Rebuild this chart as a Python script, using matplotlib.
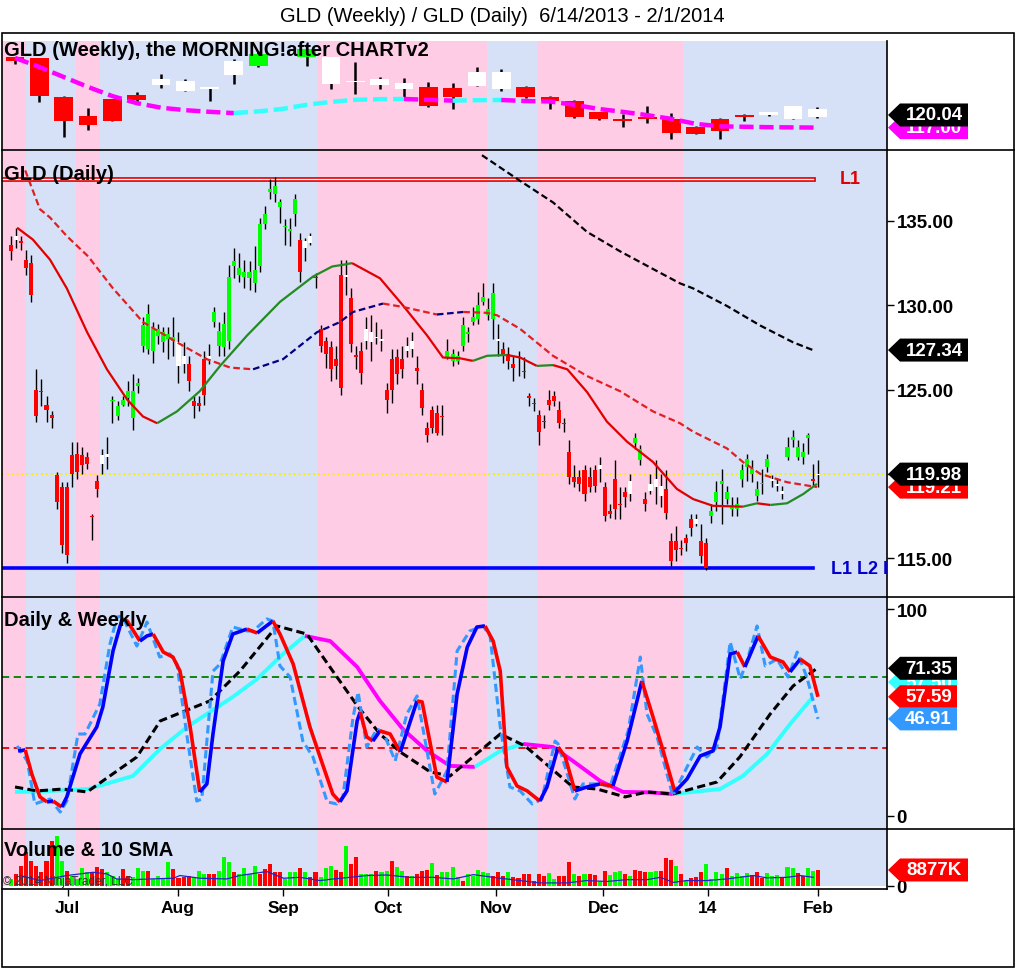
import numpy as np
import matplotlib
matplotlib.use('Agg')
import matplotlib.pyplot as plt
from matplotlib.patches import Polygon, Rectangle
from matplotlib.lines import Line2D
from matplotlib.transforms import IdentityTransform
from matplotlib.ticker import FormatStrFormatter

# ---------------- data ----------------
# daily GLD bars, 6/14/2013 .. 1/31/2014 (one entry per trading day)
D_OPEN = [133.6, 133.9, 133.8, 132.7, 132.5, 125.0, 124.9, 124.1, 123.5, 119.9,
          119.2, 119.2, 121.1, 121.2, 121.1, 121.0, 117.5, 119.6, 120.6, 121.0,
          124.3, 123.4, 124.1, 124.5, 123.3, 125.2, 127.6, 127.4, 127.3, 128.2,
          127.8, 128.0, 127.9, 126.4, 126.5, 126.5, 124.3, 124.2, 126.8, 126.8,
          129.0, 127.6, 127.5, 127.9, 132.3, 131.8, 131.7, 131.6, 131.3, 132.3,
          134.8, 136.7, 136.6, 135.8, 134.7, 134.4, 135.4, 133.9, 133.4, 133.7,
          131.7, 128.6, 127.9, 127.5, 126.8, 131.8, 131.7, 130.4, 127.0, 127.3,
          127.9, 127.8, 128.1, 127.9, 125.0, 126.8, 126.9, 126.8, 127.3, 127.4,
          126.3, 125.0, 122.7, 123.8, 123.6, 123.4, 126.9, 126.7, 126.7, 127.6,
          128.3, 129.0, 129.2, 130.2, 129.4, 129.2, 127.9, 127.4, 127.1, 126.5,
          126.9, 126.1, 124.6, 124.2, 123.5, 123.1, 124.4, 124.6, 123.8, 123.0,
          121.3, 119.8, 119.8, 120.2, 119.8, 120.2, 120.3, 119.2, 117.8, 119.7,
          118.2, 118.9, 118.8, 121.8, 120.8, 118.5, 119.0, 119.2, 118.7, 119.1,
          116.0, 116.0, 115.6, 116.2, 117.3, 117.0, 116.0, 115.9, 117.5, 118.3,
          119.4, 118.5, 117.9, 117.9, 119.7, 120.4, 120.0, 118.7, 119.4, 120.4,
          119.6, 119.3, 118.8, 121.0, 122.0, 121.0, 121.0, 122.1, 119.7, 119.9]
D_HIGH = [134.1, 134.6, 134.1, 133.3, 133.0, 126.2, 125.6, 124.6, 123.7, 120.1,
          119.5, 119.5, 121.9, 121.9, 121.6, 121.3, 117.6, 119.9, 121.5, 122.2,
          124.6, 124.3, 124.6, 125.5, 125.9, 125.7, 129.3, 130.1, 129.0, 128.9,
          128.7, 128.7, 129.3, 128.4, 127.8, 127.0, 124.6, 124.6, 127.3, 127.7,
          129.9, 129.0, 129.6, 132.4, 133.4, 133.1, 132.7, 132.6, 133.5, 135.2,
          135.9, 137.5, 137.6, 136.3, 135.1, 135.2, 136.6, 134.3, 134.0, 134.3,
          131.9, 128.8, 128.1, 127.9, 127.6, 132.7, 132.7, 131.0, 127.6, 127.8,
          129.3, 129.4, 129.0, 128.6, 125.4, 127.4, 127.4, 127.6, 128.1, 128.4,
          127.0, 125.4, 123.1, 124.0, 124.1, 124.1, 128.0, 127.4, 127.3, 129.3,
          128.7, 129.9, 130.8, 131.3, 130.4, 131.3, 128.9, 127.8, 127.5, 127.0,
          127.3, 126.9, 124.8, 124.5, 123.8, 123.5, 125.0, 124.9, 124.3, 123.3,
          122.0, 120.5, 120.2, 120.5, 120.4, 120.5, 121.0, 119.5, 118.2, 120.8,
          119.2, 119.2, 120.0, 122.4, 121.7, 118.9, 120.0, 120.8, 120.0, 120.2,
          116.5, 116.9, 116.1, 116.4, 117.6, 117.6, 117.0, 116.2, 118.2, 119.6,
          120.3, 119.3, 118.6, 118.6, 120.6, 121.2, 120.8, 119.6, 120.3, 121.2,
          119.9, 119.7, 119.3, 122.2, 122.6, 122.0, 121.8, 122.4, 120.6, 120.8]
D_LOW = [132.7, 133.4, 133.3, 131.8, 130.2, 123.1, 124.0, 123.1, 122.7, 117.9,
         115.3, 114.7, 119.2, 119.7, 120.0, 120.3, 116.1, 118.6, 120.0, 120.3,
         123.0, 123.2, 124.0, 124.0, 122.6, 124.8, 127.2, 127.1, 126.6, 127.7,
         127.2, 126.8, 127.0, 125.4, 126.0, 124.9, 123.3, 123.7, 124.1, 126.5,
         128.7, 127.0, 127.0, 127.4, 131.6, 131.4, 131.0, 130.9, 130.8, 132.0,
         134.5, 136.3, 136.1, 134.9, 133.6, 133.5, 134.7, 131.4, 132.6, 133.6,
         131.0, 127.2, 126.3, 125.5, 125.6, 124.7, 130.6, 127.2, 126.2, 125.3,
         127.4, 126.7, 127.7, 127.3, 123.6, 124.2, 125.3, 125.7, 126.9, 126.9,
         125.3, 123.5, 121.9, 122.4, 122.3, 122.3, 126.8, 126.4, 126.5, 127.3,
         127.8, 128.8, 128.9, 130.0, 129.1, 128.0, 127.0, 126.6, 126.2, 125.5,
         125.8, 125.7, 124.0, 123.7, 121.7, 122.7, 123.8, 124.0, 122.7, 122.5,
         119.4, 119.2, 119.0, 118.4, 118.9, 118.9, 119.5, 117.2, 117.4, 117.3,
         117.3, 118.0, 118.4, 121.5, 120.5, 117.8, 118.8, 118.2, 118.0, 117.3,
         114.5, 114.8, 115.2, 115.4, 116.3, 116.9, 114.7, 114.3, 117.1, 117.8,
         117.0, 118.2, 117.5, 117.5, 119.2, 119.6, 119.5, 118.4, 118.8, 120.1,
         119.2, 119.0, 118.5, 120.8, 121.6, 120.8, 120.6, 121.2, 119.3, 119.2]
D_CLOSE = [133.2, 134.1, 133.7, 132.2, 130.6, 123.4, 124.85, 123.8, 123.3, 118.3,
           115.8, 115.2, 120.0, 120.1, 120.5, 120.6, 117.45, 119.1, 121.1, 121.2,
           124.35, 124.0, 124.4, 124.9, 124.9, 125.4, 128.8, 129.5, 128.6, 128.6,
           128.4, 128.3, 128.1, 127.8, 127.0, 125.5, 124.0, 124.0, 124.7, 127.0,
           129.6, 128.5, 128.9, 131.7, 132.6, 132.2, 132.0, 132.0, 132.1, 134.8,
           135.4, 136.9, 137.1, 136.1, 134.65, 134.5, 136.3, 132.0, 133.8, 134.1,
           131.6, 127.6, 127.1, 126.2, 126.4, 125.1, 131.8, 127.7, 126.95, 126.0,
           128.6, 128.4, 128.05, 128.0, 124.4, 125.0, 125.9, 126.2, 127.6, 127.9,
           126.1, 123.9, 122.3, 122.7, 122.4, 123.35, 127.3, 127.1, 127.0, 128.8,
           128.4, 129.3, 130.0, 130.5, 129.8, 130.7, 128.0, 127.0, 126.7, 126.3,
           126.85, 126.05, 124.5, 124.15, 122.5, 123.05, 124.1, 124.3, 123.0, 122.95,
           119.8, 119.5, 119.4, 118.8, 119.2, 119.3, 120.5, 117.5, 117.6, 117.9,
           118.15, 118.6, 119.6, 122.1, 121.5, 118.2, 119.4, 119.7, 119.3, 117.7,
           114.8, 115.5, 115.55, 115.9, 116.8, 117.3, 115.1, 114.4, 117.8, 118.9,
           119.6, 118.9, 118.1, 118.2, 120.2, 120.9, 120.3, 119.1, 119.45, 120.9,
           119.65, 119.35, 119.0, 121.6, 122.2, 121.6, 121.3, 122.3, 119.6, 119.98]
# bar paint state: r = red, g = green, w = white
D_STATE = ("rwrrrrrrrr" "rrrrrrrrww" "gggggggggg" "gggwwrrrrw" "gggggggggg"
           "gggggggrww" "rrrrrrwrrr" "wwwwrrrrww" "rrrrrrgggg" "ggggggwrrr"
           "rrrrrrrrrr" "rrrrrrwrrr" "rrwggrwwwr" "rrrrrwrrgg" "gggggggggg"
           "wwwgggggrw")

# daily moving averages (bar index, price)
MA_FAST_X = [1.2, 4.3, 7.7, 11.0, 15.0, 18.9, 22.9, 26.0, 28.8, 32.7,
             37.2, 41.2, 46.5, 53.0, 59.5, 63.3, 65.4, 67.2, 72.7, 77.2,
             82.0, 85.1, 88.5, 91.0, 93.8, 97.7, 100.3, 103.6, 106.8, 109.6,
             113.5, 117.4, 121.4, 126.5, 131.2, 134.4, 138.3, 144.2, 147.0, 149.6,
             152.9, 156.1, 158.8]
MA_FAST_Y = [134.6, 133.9, 132.7, 131.0, 128.4, 126.2, 124.4, 123.4, 123.0, 123.7,
             124.9, 126.4, 128.2, 130.2, 131.7, 132.3, 132.4, 132.5, 131.6, 130.0,
             128.2, 126.9, 126.85, 126.7, 127.0, 127.05, 126.9, 126.4, 126.45, 126.2,
             124.85, 123.1, 121.9, 120.7, 119.1, 118.5, 118.1, 118.05, 118.25, 118.15,
             118.25, 118.8, 119.4]
MA_MID_X = [2.8, 5.7, 7.7, 11.0, 15.2, 20.1, 26.0, 32.7, 38.6, 43.2,
            47.7, 53.6, 60.3, 64.8, 67.4, 73.3, 77.2, 83.9, 89.1, 93.8,
            95.8, 100.3, 106.8, 113.5, 120.0, 126.5, 131.8, 134.4, 141.1, 144.2,
            147.6, 152.9, 158.8]
MA_MID_Y = [138.0, 135.7, 135.2, 134.1, 132.9, 131.0, 129.0, 127.8, 126.8, 126.3,
            126.2, 126.8, 128.4, 129.0, 129.6, 130.1, 129.9, 129.45, 129.6, 129.55,
            129.4, 128.6, 127.0, 125.8, 124.9, 123.7, 123.0, 122.5, 121.5, 120.7,
            120.0, 119.5, 119.21]
MA_SLOW_X = [92.8, 99.7, 106.8, 113.5, 120.0, 126.5, 131.8, 134.4, 141.1, 147.6, 154.1, 158.0]
MA_SLOW_Y = [138.9, 137.5, 136.1, 134.35, 133.2, 132.15, 131.3, 131.0, 129.95, 128.8, 127.8, 127.34]

L1_LEVEL = 137.5
L2_LEVEL = 114.4
LEVEL_END = 158.0
LAST_PRICE = 119.98

# weekly GLD bars
W_OPEN = [134.0, 133.8, 124.4, 119.8, 123.9, 124.9, 127.3, 125.8, 126.3, 129.7,
          131.8, 138.6, 134.0, 127.5, 128.0, 127.3, 126.3, 126.8, 126.5, 127.0,
          126.3, 126.8, 124.4, 123.4, 120.8, 119.1, 119.6, 119.1, 117.2, 119.1,
          120.0, 120.1, 119.1, 119.6]
W_CLOSE = [133.0, 124.6, 118.6, 117.6, 118.6, 123.7, 128.7, 128.2, 126.8, 133.0,
           134.7, 139.6, 135.9, 134.0, 128.1, 128.7, 127.8, 122.2, 124.4, 130.4,
           130.4, 124.4, 123.4, 119.6, 119.1, 118.6, 119.1, 115.7, 115.5, 116.2,
           119.6, 120.8, 122.2, 121.5]
W_HIGH = [134.0, 133.8, 124.6, 121.7, 123.9, 125.5, 129.9, 128.7, 126.8, 133.5,
          135.5, 140.0, 135.9, 134.0, 132.8, 129.2, 128.9, 128.0, 127.7, 131.6,
          131.2, 127.0, 124.6, 123.6, 120.8, 120.3, 122.2, 120.5, 117.4, 119.3,
          120.3, 120.8, 122.2, 122.0]
W_LOW = [132.3, 123.2, 114.7, 116.4, 118.6, 122.7, 126.5, 125.8, 123.4, 127.5,
         131.6, 138.4, 131.9, 126.3, 125.1, 126.3, 123.9, 122.0, 121.5, 127.0,
         125.8, 124.2, 121.5, 119.3, 118.9, 117.2, 118.1, 114.3, 115.5, 114.3,
         118.6, 119.8, 119.1, 119.3]
W_STATE = "rrrrrr" "wwww" "ggg" "wwww" "rr" "ww" "rrrrrrrrrr" "www"
W_MA = [133.8, 131.6, 129.2, 126.8, 124.6, 122.9, 121.8, 121.2, 120.8, 120.5,
        120.9, 121.5, 122.5, 123.2, 123.7, 123.85, 123.9, 123.7, 123.5, 123.6,
        123.65, 123.4, 123.3, 122.5, 121.5, 120.8, 120.0, 119.1, 117.9, 117.3,
        117.2, 117.1, 117.05, 117.0]
W_LAST = 120.04

# stochastics (bar index, value)
SK_X = [1.4, 2.8, 4.1, 5.7, 7.1, 8.3, 10.0, 11.0, 13.6, 16.9,
        18.1, 20.1, 21.9, 22.9, 25.4, 26.8, 28.0, 30.0, 31.9, 33.3,
        35.3, 37.2, 38.6, 39.8, 41.8, 43.7, 46.5, 48.5, 51.6, 53.0,
        55.6, 58.9, 60.9, 63.4, 64.8, 66.2, 68.2, 68.8, 70.1, 71.3,
        72.7, 74.7, 76.7, 80.0, 81.0, 83.9, 85.9, 87.9, 89.9, 91.8,
        93.4, 95.0, 96.4, 97.7, 99.7, 101.7, 104.2, 105.6, 107.8, 109.2,
        111.1, 113.5, 116.1, 118.6, 121.4, 124.3, 126.5, 128.5, 130.8, 133.2,
        135.8, 138.3, 139.7, 141.7, 143.1, 144.6, 147.2, 149.6, 152.1, 153.5,
        155.5, 157.4, 159.0]
SK_Y = [31.4, 31.9, 20.3, 9.2, 6.8, 7.2, 4.3, 9.2, 30.0, 43.0,
        52.7, 79.7, 95.2, 94.2, 84.5, 87.0, 87.9, 79.2, 76.8, 70.0,
        43.0, 11.6, 15.5, 39.6, 74.9, 87.9, 90.3, 88.4, 94.2, 87.9,
        73.4, 43.0, 28.5, 10.6, 6.8, 12.1, 45.9, 50.2, 38.2, 36.2,
        41.1, 39.6, 30.9, 55.6, 55.1, 18.8, 16.4, 58.9, 81.6, 91.3,
        91.8, 84.5, 70.0, 23.7, 14.5, 12.1, 7.2, 14.0, 33.3, 28.5,
        12.1, 14.0, 15.5, 14.5, 36.2, 65.2, 47.8, 31.4, 11.6, 17.9,
        29.0, 31.4, 43.0, 78.3, 79.2, 72.0, 87.0, 76.8, 74.4, 69.6,
        75.8, 72.5, 57.59]
SF_X = [1.2, 3.2, 4.7, 6.3, 7.7, 9.7, 11.0, 13.2, 14.6, 17.5,
        19.5, 20.9, 21.9, 24.8, 26.8, 29.3, 31.3, 32.7, 34.7, 36.6,
        37.6, 39.8, 41.2, 43.7, 46.5, 47.7, 50.4, 51.6, 53.0, 55.0,
        57.5, 59.5, 62.3, 64.2, 65.4, 67.4, 68.4, 70.1, 72.1, 73.3,
        75.7, 78.0, 80.0, 83.5, 85.9, 87.9, 90.4, 93.0, 94.4, 96.4,
        98.3, 100.3, 102.7, 104.6, 107.2, 107.8, 111.1, 112.7, 116.1, 118.0,
        121.6, 124.0, 125.3, 127.3, 130.4, 132.8, 135.2, 137.1, 139.1, 141.7,
        143.7, 145.0, 147.0, 148.6, 150.9, 153.1, 154.9, 156.8, 159.0]
SF_Y = [33.8, 26.6, 5.8, 7.2, 8.2, 1.9, 7.2, 39.6, 39.6, 54.1,
        83.1, 96.1, 96.6, 82.1, 93.7, 76.8, 78.3, 73.4, 38.2, 7.2,
        8.2, 70.0, 73.4, 91.3, 89.4, 89.4, 95.2, 94.2, 72.5, 67.1,
        36.2, 28.5, 6.8, 5.8, 9.2, 47.8, 59.9, 33.3, 42.0, 40.6,
        26.6, 49.3, 58.0, 10.6, 21.7, 79.7, 89.4, 91.8, 87.0, 43.0,
        14.0, 12.1, 5.8, 8.2, 36.2, 34.8, 8.2, 15.5, 15.5, 14.0,
        41.1, 76.8, 49.3, 38.2, 9.7, 21.7, 33.3, 28.5, 33.3, 84.1,
        66.2, 74.9, 91.8, 72.5, 75.8, 67.1, 79.2, 67.1, 46.91]
WD_X = [0.8, 5.1, 10.2, 15.0, 24.8, 29.4, 39.2, 45.1, 52.4, 58.3,
        63.4, 68.4, 72.7, 76.7, 82.6, 86.5, 96.4, 101.3, 110.7, 115.5,
        121.0, 125.3, 130.4, 139.1, 143.6, 149.6, 154.1, 158.8]
WD_Y = [14.0, 12.1, 13.0, 11.6, 28.5, 45.9, 55.6, 70.0, 91.8, 87.9,
        70.0, 52.7, 39.6, 30.9, 21.3, 19.3, 39.6, 33.8, 14.0, 13.0,
        9.2, 11.6, 10.6, 16.4, 28.5, 49.3, 62.8, 71.35]
WK_X = [0.8, 5.1, 10.2, 15.2, 24.0, 29.4, 34.7, 43.7, 48.5, 53.6,
        57.9, 62.9, 68.2, 72.7, 77.2, 82.0, 86.5, 91.4, 96.4, 100.9,
        106.8, 110.7, 116.1, 120.6, 125.9, 130.4, 139.7, 144.2, 149.0, 153.5,
        158.0]
WK_Y = [11.6, 11.8, 12.4, 13.0, 19.3, 32.4, 43.0, 57.5, 66.2, 78.3,
        87.0, 84.5, 72.0, 55.6, 42.0, 31.4, 24.2, 23.7, 31.4, 34.8,
        33.3, 26.6, 16.9, 11.6, 11.4, 10.6, 13.0, 19.3, 30.0, 44.4,
        57.5]
WK_TAG = 64.7
STOCH_HI, STOCH_LO = 67, 33

# volume in millions of shares
VOLUME = [3.9, 6.7, 11.3, 18.7, 14.1, 11.3, 7.6, 14.1, 25.2, 27.9,
          14.1, 8.5, 5.8, 3.9, 9.8, 7.6, 7.6, 10.3, 9.4, 7.6,
          5.8, 3.9, 9.4, 5.8, 4.8, 9.8, 8.5, 8.5, 3.9, 5.8,
          3.9, 13.1, 9.4, 4.3, 4.8, 5.8, 4.8, 8.5, 6.7, 6.7,
          6.7, 8.5, 15.9, 13.1, 7.6, 6.7, 9.8, 6.7, 11.0, 6.7,
          9.4, 12.2, 7.6, 7.6, 3.9, 8.0, 7.6, 9.8, 8.0, 4.8,
          8.0, 4.8, 9.8, 11.0, 9.1, 7.6, 22.4, 12.2, 15.9, 6.7,
          6.7, 6.7, 8.5, 7.6, 8.5, 14.1, 10.3, 8.5, 5.8, 5.8,
          6.7, 8.5, 9.1, 12.8, 6.1, 8.0, 7.6, 10.3, 4.8, 3.0,
          6.7, 5.8, 9.1, 7.6, 7.2, 5.8, 8.0, 5.8,
          8.0, 4.8, 4.3, 6.7, 6.7, 3.0, 6.7, 5.8, 7.2, 3.9,
          5.8, 5.8, 13.5, 6.7, 5.8, 6.7, 6.7, 6.1, 3.0, 8.5,
          6.1, 8.0, 8.5, 6.7, 5.4, 9.1, 8.5, 8.0, 8.0, 8.5,
          8.5, 15.4, 14.4, 11.3, 6.7, 3.5, 4.3, 4.8, 7.6, 12.2,
          3.9, 7.6, 6.7, 10.0, 5.8, 7.2, 5.8, 7.2, 6.1, 8.0,
          4.3, 7.2, 5.8, 6.1, 4.8, 10.7, 9.8, 7.2, 5.8, 9.8,
          8.5, 8.877]
VOL_STATE = ("grrrrrrrrg" "grggggrrrg" "ggrrgggrgg" "ggrrrrgggr" "rgggrggggr"
             "rrrrgggrgr" "rgggrrgrrg" "ggrggrggrg" "rrrgrggggr" "gggggrrr"
             "grrrrrrrgg" "rrrgrgrrgr" "gggrgrrrgg" "rrrgrgrrrg" "gggrggggrr"
             "rgggrggrrg" "gr")
VSMA_X = [1.8, 5.7, 11.0, 16.2, 18.9, 20.8, 24.1, 27.4, 32.0, 33.3,
          37.2, 42.5, 45.1, 50.4, 53.7, 56.9, 60.9, 63.5, 66.8, 70.1,
          74.0, 78.6, 83.2, 87.2, 91.1, 96.4, 100.3, 104.2, 109.5, 113.4,
          117.4, 121.3, 125.3, 127.9, 130.5, 133.1, 137.1, 141.0, 146.3, 148.9,
          152.9, 155.5, 158.1]
VSMA_Y = [5.8, 3.0, 5.8, 7.6, 6.7, 3.9, 3.5, 3.9, 4.3, 5.8,
          4.3, 3.9, 5.8, 8.0, 4.3, 4.8, 3.0, 3.9, 4.8, 5.8,
          6.1, 4.8, 4.8, 3.9, 6.3, 4.3, 3.0, 1.7, 1.7, 3.0,
          2.5, 3.5, 3.5, 4.8, 2.0, 3.0, 3.0, 3.9, 5.8, 4.5,
          4.8, 5.8, 4.8]

# shaded trend regions (bar index ranges painted pink)
PINK_SPANS = [(-2.0, 2.96), (12.8, 17.5), (60.5, 93.8), (103.6, 132.4)]

MONTH_POS = [11.2, 32.9, 53.6, 74.3, 95.6, 116.7, 137.3, 159.0]
MONTH_LABELS = ['Jul', 'Aug', 'Sep', 'Oct', 'Nov', 'Dec', '14', 'Feb']


def main():
    W, H = 1016, 970
    plt.rcParams['font.family'] = ['Liberation Sans', 'DejaVu Sans']
    fig = plt.figure(figsize=(W / 100, H / 100), dpi=100)
    fig.patch.set_facecolor('white')

    x_left, x_right = -1.77, 172.6
    pink = '#FFCCE6'
    blue = '#D6E0F6'
    paint = {'r': '#FF0000', 'g': '#00FF00', 'w': '#FFFFFF'}

    def panel(y0, y1, ylim, band_bottom=0.0):
        ax = fig.add_axes([2 / W, 1 - y1 / H, 885 / W, (y1 - y0) / H])
        ax.set_xlim(x_left, x_right)
        ax.set_ylim(*ylim)
        ax.set_facecolor('white')
        ax.axvspan(x_left, x_right, ymin=band_bottom, color=blue, lw=0, zorder=0)
        for a, b in PINK_SPANS:
            ax.axvspan(a, b, ymin=band_bottom, color=pink, lw=0, zorder=0.1)
        for s in ['left', 'top', 'bottom']:
            ax.spines[s].set_visible(False)
        ax.spines['right'].set_linewidth(1.2)
        ax.set_xticks([])
        ax.yaxis.tick_right()
        ax.tick_params(axis='y', length=5, width=1, pad=2, labelsize=13.5)
        return ax

    def bold_ticks(ax):
        plt.setp(ax.get_yticklabels(), fontweight='bold')
        plt.setp(ax.get_xticklabels(), fontweight='bold')

    def trend_plot(ax, xs, ys, up, down, zorder, **kw):
        xs = np.asarray(xs, float)
        ys = np.asarray(ys, float)
        rising = np.diff(ys) > 0
        start = 0
        for k in range(1, len(rising) + 1):
            if k == len(rising) or rising[k] != rising[start]:
                ax.plot(xs[start:k + 1], ys[start:k + 1],
                        color=up if rising[start] else down,
                        zorder=zorder, solid_capstyle='butt', **kw)
                start = k

    def candles(ax, xs, o, h, l, c, state, width, wick_lw, min_body):
        o, h, l, c = map(np.asarray, (o, h, l, c))
        cols = [paint[s] for s in state]
        ax.vlines(xs, l, h, color='black', lw=wick_lw, zorder=3)
        ax.bar(xs, np.maximum(np.abs(c - o), min_body), bottom=np.minimum(o, c),
               width=width, color=cols, lw=0, zorder=4)

    tag_z = [10]

    def tag(ax, val, text, fc, width):
        yd = ax.transData.transform((0, val))[1]
        x0, x1, x2, hh = 888, 900, 888 + width, 11.5
        poly = Polygon([(x0, yd), (x1, yd + hh), (x2, yd + hh), (x2, yd - hh), (x1, yd - hh)],
                       closed=True, transform=IdentityTransform(), facecolor=fc,
                       edgecolor='none', zorder=tag_z[0])
        fig.add_artist(poly)
        fig.text((x1 + x2) / 2 / W, yd / H, text, ha='center', va='center', color='white',
                 fontsize=13.5, fontweight='bold', zorder=tag_z[0] + 0.5)
        tag_z[0] += 1

    # ---------------- weekly panel ----------------
    ax_w = panel(42, 151, (111.6, 137.87))
    ax_w.set_yticks([])
    wx = 0.8 + 4.79 * np.arange(len(W_OPEN))
    candles(ax_w, wx, W_OPEN, W_HIGH, W_LOW, W_CLOSE, W_STATE, 3.7, 1.8, 0.25)
    trend_plot(ax_w, wx, W_MA, '#33FFFF', '#FF00FF', 5, lw=3.2, dashes=(3.2, 1.3))

    # ---------------- daily panel ----------------
    ax_d = panel(151, 598, (112.69, 139.21))
    n = len(D_OPEN)
    dx = np.arange(n)
    ax_d.axhline(LAST_PRICE, color='#FFEE00', lw=1.4, ls=(0, (1, 1.5)), zorder=1)
    ax_d.plot([x_left, LEVEL_END], [L1_LEVEL, L1_LEVEL], color='#E00000', lw=3.4, zorder=2)
    ax_d.plot([x_left, LEVEL_END], [L1_LEVEL, L1_LEVEL], color='white', lw=1.0, zorder=2.1)
    ax_d.plot([x_left, LEVEL_END], [L2_LEVEL, L2_LEVEL], color='#0000FF', lw=2.6, zorder=2)
    candles(ax_d, dx, D_OPEN, D_HIGH, D_LOW, D_CLOSE, D_STATE, 0.8, 1.0, 0.07)
    trend_plot(ax_d, MA_FAST_X, MA_FAST_Y, '#228B22', '#E00000', 5, lw=1.6)
    trend_plot(ax_d, MA_MID_X, MA_MID_Y, '#000080', '#E02020', 5, lw=1.6, dashes=(3, 1.6))
    ax_d.plot(MA_SLOW_X, MA_SLOW_Y, color='black', lw=1.6, dashes=(3, 1.6), zorder=5)
    ax_d.text(163.3, L1_LEVEL, 'L1', color='#E00000', fontsize=13, fontweight='bold',
              va='center', zorder=6)
    ax_d.text(161.6, L2_LEVEL, 'L1 L2 L', color='#0000CC', fontsize=13, fontweight='bold',
              va='center', zorder=6, clip_on=True)
    ax_d.set_yticks([115, 120, 125, 130, 135])
    ax_d.yaxis.set_major_formatter(FormatStrFormatter('%.2f'))
    bold_ticks(ax_d)

    # ---------------- stochastics panel ----------------
    ax_s = panel(598, 830, (-6.3, 105.8))
    ax_s.axhline(STOCH_HI, color='#008000', lw=1.3, ls=(0, (4, 2.5)), zorder=1)
    ax_s.axhline(STOCH_LO, color='#E00000', lw=1.3, ls=(0, (4, 2.5)), zorder=1)
    trend_plot(ax_s, WK_X, WK_Y, '#33FFFF', '#FF00FF', 2, lw=2.8)
    ax_s.plot(WD_X, WD_Y, color='black', lw=2.2, dashes=(2.7, 1.4), zorder=3)
    ax_s.plot(SF_X, SF_Y, color='#3399FF', lw=2.2, dashes=(2.7, 1.4), zorder=4)
    trend_plot(ax_s, SK_X, SK_Y, '#0000FF', '#FF0000', 5, lw=2.6)
    ax_s.set_yticks([0, 100])
    bold_ticks(ax_s)

    # ---------------- volume panel ----------------
    ax_v = panel(830, 890, (-1.67, 31.6), band_bottom=0.05)
    ax_v.bar(dx, VOLUME, width=0.8, color=[paint[s] for s in VOL_STATE], lw=0, zorder=3)
    ax_v.plot(VSMA_X, VSMA_Y, color='#2222CC', lw=0.9, zorder=4)
    ax_v.spines['bottom'].set_visible(True)
    ax_v.spines['bottom'].set_linewidth(1.2)
    ax_v.set_xticks(MONTH_POS)
    ax_v.set_xticklabels(MONTH_LABELS)
    ax_v.tick_params(axis='x', direction='out', length=5, width=1, pad=3, labelsize=12.5)
    ax_v.set_yticks([0])
    bold_ticks(ax_v)

    # ---------------- frame, separators, texts ----------------
    def hline_px(y, x0, x1):
        fig.add_artist(Line2D([x0 / W, x1 / W], [1 - y / H, 1 - y / H], color='black', lw=1.2,
                              transform=fig.transFigure, zorder=8))

    for y in (151, 598, 830):
        hline_px(y, 2, 1014)
    fig.add_artist(Rectangle((2 / W, 1 - 968 / H), 1012 / W, 934 / H, fill=False,
                             edgecolor='black', lw=1.2, transform=fig.transFigure, zorder=8))

    fig.text(502 / W, 1 - 17 / H, 'GLD (Weekly) / GLD (Daily)  6/14/2013 - 2/1/2014',
             ha='center', va='center', fontsize=14.5)
    labels = [(50, 'GLD (Weekly), the MORNING!after CHARTv2'), (174, 'GLD (Daily)'),
              (621, 'Daily & Weekly'), (851, 'Volume & 10 SMA')]
    for y, s in labels:
        fig.text(4 / W, 1 - y / H, s, ha='left', va='center', fontsize=14.5,
                 fontweight='bold', zorder=9)
    fig.text(3 / W, 1 - 882 / H, '\u00a9 2014 NinjaTrader, LLC', ha='left', va='center',
             fontsize=8.5, color='#333333', zorder=9)

    # price tags on the right axis
    tag(ax_w, W_MA[-1], '%.2f' % W_MA[-1], '#FF00FF', 80)
    tag(ax_w, W_LAST, '%.2f' % W_LAST, 'black', 80)
    tag(ax_d, MA_MID_Y[-1], '%.2f' % MA_MID_Y[-1], '#FF0000', 80)
    tag(ax_d, LAST_PRICE, '%.2f' % LAST_PRICE, 'black', 80)
    tag(ax_d, MA_SLOW_Y[-1], '%.2f' % MA_SLOW_Y[-1], 'black', 80)
    tag(ax_s, WK_TAG, '%.2f' % WK_Y[-1], '#33FFFF', 69)
    tag(ax_s, WD_Y[-1], '%.2f' % WD_Y[-1], 'black', 69)
    tag(ax_s, SK_Y[-1], '%.2f' % SK_Y[-1], '#FF0000', 69)
    tag(ax_s, SF_Y[-1], '%.2f' % SF_Y[-1], '#3399FF', 69)
    tag(ax_v, VOLUME[-1], '%dK' % round(VOLUME[-1] * 1000), '#FF0000', 80)

    fig.savefig('out.png', dpi=100, facecolor='white')
    plt.close(fig)


if __name__ == '__main__':
    main()
